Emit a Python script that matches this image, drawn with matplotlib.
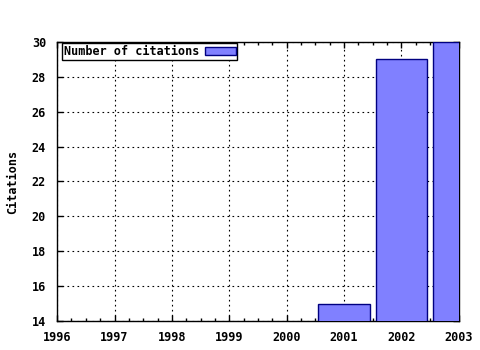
import matplotlib
matplotlib.use('Agg')
import matplotlib.pyplot as plt
from matplotlib.ticker import MultipleLocator

years = [2001, 2002, 2003]
citations = [15, 29, 30]
xticks = [1996, 1997, 1998, 1999, 2000, 2001, 2002, 2003]
yticks = [14, 16, 18, 20, 22, 24, 26, 28, 30]

plt.rcParams['font.family'] = 'DejaVu Sans Mono'
plt.rcParams['font.weight'] = 'bold'
plt.rcParams['font.size'] = 8.5

fig = plt.figure(figsize=(4.8, 3.5), dpi=100)
ax = fig.add_axes([0.119, 0.083, 0.837, 0.797])

ax.bar(years, citations, width=0.9, color='#8080ff', edgecolor='#000080',
       linewidth=1, label='Number of citations', zorder=3)

ax.set_xlim(1996, 2003)
ax.set_ylim(14, 30)
ax.set_xticks(xticks)
ax.set_yticks(yticks)
ax.xaxis.set_minor_locator(MultipleLocator(0.25))
ax.tick_params(which='both', direction='in', top=True, right=True, length=4, width=1)
ax.tick_params(which='minor', length=2)
ax.tick_params(axis='x', pad=7)
ax.tick_params(axis='y', pad=8)
ax.grid(True, which='major', color='black', linestyle=(0, (1.5, 3)), linewidth=0.8)
for s in ax.spines.values():
    s.set_linewidth(1)
ax.set_ylabel('Citations', fontweight='bold', labelpad=9)

leg = ax.legend(loc='upper left', bbox_to_anchor=(0.012, 0.995), frameon=True,
                fancybox=False, edgecolor='black', framealpha=1,
                handlelength=2.6, handleheight=0.6, borderpad=0.15,
                markerfirst=False, handletextpad=0.5, borderaxespad=0)
leg.get_frame().set_linewidth(1)

plt.savefig('out.png', dpi=100)
